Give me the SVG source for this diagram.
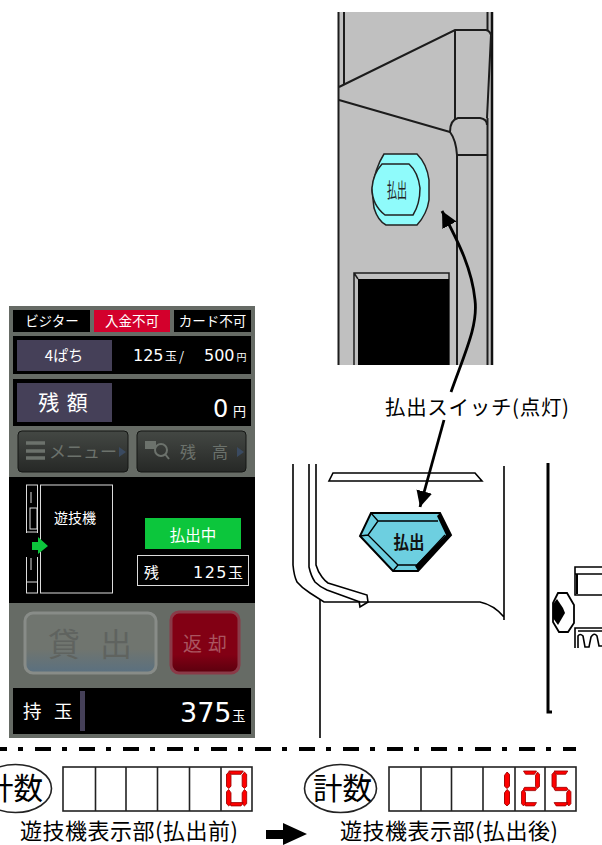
<svg xmlns="http://www.w3.org/2000/svg" width="602" height="845" viewBox="0 0 602 845">
<style>
text{font-family:"Noto Sans CJK JP","Liberation Sans",sans-serif}
.n{font-family:"DejaVu Sans","Liberation Sans",sans-serif;fill:#fff}
.k{fill:none;stroke:#000;stroke-width:1.600}
.g{fill:none;stroke:#1c1c1c;stroke-width:2}
.w{fill:#fff;text-anchor:middle}
.s{fill:#ff0000;stroke:#a00000;stroke-width:.8}
.cell{fill:#fff;stroke:#222;stroke-width:1.600}
.lbl{font-size:22px;fill:#000}
.pbtn{fill:url(#gb);stroke:#141614;stroke-width:1}
.dim{fill:#6c726c;text-anchor:middle}
</style>
<defs>
<marker id="ah" markerUnits="userSpaceOnUse" markerWidth="20" markerHeight="20" refX="16" refY="8" orient="auto"><path d="M0 0L16 8L0 16Z" fill="#000"/></marker>
<linearGradient id="gb" x1="0" y1="0" x2="0" y2="1"><stop offset="0" stop-color="#444844"/><stop offset="1" stop-color="#262826"/></linearGradient>
<linearGradient id="gl" x1="0" y1="0" x2="0" y2="1"><stop offset="0" stop-color="#70756f"/><stop offset=".6" stop-color="#70756f"/><stop offset="1" stop-color="#5a7080"/></linearGradient>
<linearGradient id="gr" x1="0" y1="0" x2="0" y2="1"><stop offset="0" stop-color="#820014"/><stop offset=".7" stop-color="#820014"/><stop offset="1" stop-color="#5a000e"/></linearGradient>
<path id="sa" d="M2 0h13l-2 3H4Z"/>
<path id="sb" d="M16 1l2 2v11l-2 2-2-2V4Z"/>
<path id="sc" d="M2 1l2 3v10l-2 2-2-2V3Z"/>
<path id="sm" d="M3 15H14L15 16.500L14 18H3L2 16.500Z"/>
</defs>
<rect width="602" height="845" fill="#fff"/>

<g id="machine-top">
<rect x="338" y="12" width="155" height="353" fill="#c0c0c0"/>
<path class="g" d="M338.500 12V365M344 12V85M487.500 12V30M487.500 118V365"/>
<path d="M492 12V365" stroke="#111" stroke-width="2.500" fill="none"/>
<path class="g" d="M339 87L455 30H486Q490 31 491 35L487 118M455 30V120M339 100L450 132M450 132Q450 120 458 118H480Q487 119 487 125M450 132Q456 140 457 155V365M457 155H487"/>
<path d="M384 154H417Q427 164 429 180V200Q427 214 417 225H386Q378 221 374 208L372 190Q375 168 384 154Z" fill="#8ffbfb" stroke="#222" stroke-width="1.500"/>
<path d="M382 164H409Q418 172 420 188Q420 204 413 215H385Q372 205 372 188Q373 174 382 164Z" fill="#8ffbfb" stroke="#222" stroke-width="1.500"/>
<text x="397" y="198" font-size="20" fill="#222" text-anchor="middle" textLength="20" lengthAdjust="spacingAndGlyphs">払出</text>
<path d="M354 365V273H449V365M354 273L358 279" fill="none" stroke="#1c1c1c" stroke-width="1.500"/>
<rect x="358" y="279" width="91" height="86" fill="#000"/>
</g>

<g id="machine-bottom">
<path class="k" d="M293 464V565Q294 576 297 582Q302 588 310 593L324 602H480Q494 605 504 617M504 466V620"/>
<path class="k" d="M309 464V567Q311 576 315 582Q320 587 327 590L360 602M316 464V565Q318 572 322 577Q325 581 328 583L367 595L368 602L360 607L359 601M320 600V738"/>
<path class="k" d="M333 473H475L482 481H329Z"/>
<path d="M371 513H440L451 535L418 571H393L360 536Z" fill="#6dcfe0" stroke="#000" stroke-width="2"/>
<path d="M440 513L451 535L418 571L415 566L446 535L437 516Z" fill="#000"/>
<path d="M378 521H438M445 535L417 565H398L368 535L378 521M371 513L378 521M360 536L368 535M393 571L398 565" fill="none" stroke="#000" stroke-width="1.300"/>
<text x="409" y="549" font-size="18" font-weight="700" fill="#111" text-anchor="middle" textLength="31" lengthAdjust="spacingAndGlyphs">払出</text>
<path d="M548 463V712H552" fill="none" stroke="#000" stroke-width="3"/>
<path d="M558 593H567L574 605V623L568 632H559L553 622V603Z" fill="#fff" stroke="#000" stroke-width="1.800"/>
<path d="M557 599L563 608L565 613L558 625L553 618V604Z" fill="#000"/>
<path class="k" d="M602 567H575V595H602M575 574H602" stroke-width="1.500"/>
<path d="M577 574V594" stroke="#000" stroke-width="2"/>
<path class="k" d="M602 628H575V648M578 631H602M578 648V636Q580 633 583 636L585 647H589L591 637Q594 632 597 636L599 646H602" stroke-width="1.200"/>
</g>

<g id="panel">
<rect x="9" y="306" width="246" height="432" fill="#666b65"/>
<rect x="13" y="310" width="77" height="22" fill="#000"/>
<text class="w" x="52" y="326" font-size="13.500">ビジター</text>
<rect x="94" y="310" width="76" height="22" fill="#d3002c"/>
<text class="w" x="132" y="326" font-size="13.500">入金不可</text>
<rect x="174" y="310" width="77" height="22" fill="#000"/>
<text class="w" x="212.500" y="326" font-size="13.500">カード不可</text>

<rect x="13" y="336" width="238" height="38" fill="#000"/>
<rect x="17" y="340" width="95" height="31" fill="#454058"/>
<text class="w" x="64" y="361" font-size="15">4ぱち</text>
<text class="n" x="133" y="361" font-size="16">125</text>
<text x="165" y="361" font-size="12" fill="#fff">玉</text>
<text x="179" y="361" font-size="13" fill="#fff">/</text>
<text class="n" x="204" y="361" font-size="16">500</text>
<text x="236.500" y="361" font-size="10" fill="#fff">円</text>

<rect x="13" y="379" width="238" height="47" fill="#000"/>
<rect x="17" y="383" width="95" height="39" fill="#454058"/>
<text class="w" x="63" y="410" font-size="21" word-spacing="3">残 額</text>
<text class="n" x="213" y="417" font-size="24">0</text>
<text x="233" y="416" font-size="13" fill="#fff">円</text>

<rect x="18" y="431" width="110" height="41" rx="4" class="pbtn"/>
<rect x="137" y="431" width="109" height="41" rx="4" class="pbtn"/>
<path d="M26 443H45M26 451H45M26 458H45" stroke="#6c726c" stroke-width="3.500"/>
<text class="dim" x="83" y="458" font-size="17">メニュー</text>
<path d="M119 447L126 452L119 457Z" fill="#3a4a60"/>
<rect x="145" y="441" width="11" height="8" fill="#6c726c"/>
<circle cx="161" cy="450" r="6" fill="none" stroke="#6c726c" stroke-width="2"/>
<path d="M165 454L169 459" stroke="#6c726c" stroke-width="2"/>
<text class="dim" x="188" y="458" font-size="16">残</text>
<text class="dim" x="220" y="458" font-size="16">高</text>
<path d="M237 447L244 452L237 457Z" fill="#3a4a60"/>

<rect x="9" y="477" width="246" height="126" fill="#000"/>
<g fill="none" stroke="#dcdcdc" stroke-width="1">
<rect x="26.500" y="485" width="11" height="108"/>
<rect x="40.500" y="485" width="72" height="108"/>
<path d="M26.500 582H37.500M31 492V503M31 558V570"/>
<rect x="30" y="508" width="7" height="21"/>
<path d="M26.500 532H37.500"/>
</g>
<rect x="25" y="533" width="14" height="24" fill="#000"/>
<path d="M32 542H38V537L48 546L38 554V550H32Z" fill="#0cc63c"/>
<text class="w" x="75" y="523" font-size="14">遊技機</text>
<rect x="145" y="518" width="96" height="31" fill="#0cc63c"/>
<text class="w" x="193" y="541" font-size="15.500">払出中</text>
<rect x="137.500" y="555.500" width="111" height="30" fill="#000" stroke="#dcdcdc"/>
<text x="144" y="578" font-size="15" fill="#fff">残</text>
<text class="n" x="193" y="578" font-size="16" letter-spacing="1.500">125</text>
<text x="228" y="578" font-size="15" fill="#fff">玉</text>

<rect x="25" y="613" width="131" height="60" rx="8" fill="url(#gl)" stroke="#888c88" stroke-width="3"/>
<text x="48" y="656" font-size="32" fill="#5f635f">貸</text>
<text x="100" y="656" font-size="32" fill="#5f635f">出</text>
<rect x="171" y="612" width="68" height="61" rx="8" fill="url(#gr)" stroke="#8a3a48" stroke-width="3"/>
<text x="183" y="651" font-size="19" fill="#aa5560">返</text>
<text x="208" y="651" font-size="19" fill="#aa5560">却</text>

<rect x="13" y="688" width="238" height="46" fill="#000"/>
<text x="23" y="718" font-size="18.500" fill="#fff">持</text>
<text x="54" y="718" font-size="18.500" fill="#fff">玉</text>
<rect x="80" y="691" width="5" height="40" fill="#454058"/>
<text class="n" x="180" y="722" font-size="27">375</text>
<text x="232" y="721" font-size="13.500" fill="#fff">玉</text>
</g>

<g id="connectors">
<path d="M451 392C466 350 478 325 475 300C472 270 460 245 442 211" fill="none" stroke="#000" stroke-width="2.800" marker-end="url(#ah)"/>
<path d="M444 420L420 507" fill="none" stroke="#000" stroke-width="2.800" marker-end="url(#ah)"/>
<path d="M-9 749H576" stroke="#000" stroke-width="4" stroke-dasharray="16 11 5 12" fill="none"/>
<path d="M266 830H283V823L307 834L283 845V839H266Z" fill="#000"/>
</g>

<g id="label-switch"><text x="385" y="415" font-size="20.500" fill="#000" textLength="184">払出スイッチ(点灯)</text></g>

<g id="counter-before">
<ellipse cx="15.500" cy="788.500" rx="36" ry="24" fill="#fff" stroke="#222" stroke-width="1.600"/>
<text x="13.500" y="799" font-size="29.500" fill="#000" text-anchor="middle">計数</text>
<rect class="cell" x="63" y="767" width="189" height="44"/>
<path d="M95.500 767V811M126 767V811M157.500 767V811M189.500 767V811M221 767V811" stroke="#222" stroke-width="1.600"/>
<g class="s" transform="translate(226.500 771) scale(1.120 1.090)">
<use href="#sa"/><use href="#sb"/><use href="#sb" y="16"/><use href="#sa" y="29"/>
<use href="#sc"/><use href="#sc" y="16"/>
</g>
<text class="lbl" x="20" y="838.500" textLength="218">遊技機表示部(払出前)</text>
</g>

<g id="counter-after">
<ellipse cx="340.500" cy="788.500" rx="36" ry="24" fill="#fff" stroke="#222" stroke-width="1.600"/>
<text x="342.500" y="799" font-size="29.500" fill="#000" text-anchor="middle">計数</text>
<rect class="cell" x="389" y="767" width="187" height="44"/>
<path d="M421 767V811M451.500 767V811M483 767V811M515 767V811M545 767V811" stroke="#222" stroke-width="1.600"/>
<g class="s" transform="translate(487 771) scale(1.250 1.090)">
<use href="#sb"/><use href="#sb" y="16"/>
</g>
<g class="s" transform="translate(521.500 771) scale(1 1.090)">
<use href="#sa"/><use href="#sb"/><use href="#sa" y="29"/>
<use href="#sc" y="16"/><use href="#sm"/>
</g>
<g class="s" transform="translate(552 771) scale(1.050 1.090)">
<use href="#sa"/><use href="#sb" y="16"/><use href="#sa" y="29"/>
<use href="#sc"/><use href="#sm"/>
</g>
<text class="lbl" x="340" y="838.500" textLength="218">遊技機表示部(払出後)</text>
</g>
</svg>
